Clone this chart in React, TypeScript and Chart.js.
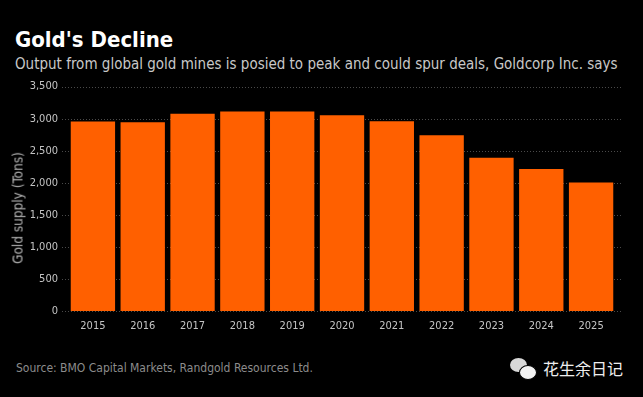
import React, { useEffect, useRef } from "react";
import { Chart, registerables } from "chart.js";

Chart.register(...registerables);

const years = ["2015", "2016", "2017", "2018", "2019", "2020", "2021", "2022", "2023", "2024", "2025"];
const goldSupply = [2955, 2945, 3075, 3110, 3110, 3055, 2960, 2740, 2390, 2215, 2005];
const yTicks = [0, 500, 1000, 1500, 2000, 2500, 3000, 3500];

const FONT = "'DejaVu Sans Condensed', 'Liberation Sans Narrow', 'DejaVu Sans', sans-serif";

const dottedGrid = {
  id: "dottedGrid",
  beforeDatasetsDraw(chart: any) {
    const { ctx, chartArea, scales } = chart;
    const y = scales.y;
    ctx.save();
    ctx.strokeStyle = "#4a4a4a";
    ctx.lineWidth = 1;
    ctx.setLineDash([1, 2]);
    yTicks.forEach((v) => {
      const py = Math.round(y.getPixelForValue(v)) + 0.5;
      ctx.beginPath();
      ctx.moveTo(chartArea.left - 6, py);
      ctx.lineTo(chartArea.right + 6, py);
      ctx.stroke();
    });
    ctx.restore();
  },
};

export default function App() {
  const ref = useRef<HTMLCanvasElement | null>(null);

  useEffect(() => {
    if (!ref.current) return;
    const chart = new Chart(ref.current, {
      type: "bar",
      data: {
        labels: years,
        datasets: [
          {
            data: goldSupply,
            backgroundColor: "#ff6000",
            borderWidth: 0,
            barPercentage: 0.89,
            categoryPercentage: 1,
          },
        ],
      },
      options: {
        animation: false,
        responsive: false,
        maintainAspectRatio: false,
        layout: { padding: { top: 8, right: 27, left: 0, bottom: 0 } },
        plugins: { legend: { display: false }, tooltip: { enabled: false } },
        scales: {
          x: {
            grid: { display: false, drawTicks: false },
            border: { display: false },
            ticks: {
              color: "#c4c4c4",
              padding: 9,
              font: { family: FONT, size: 11 },
              maxRotation: 0,
              autoSkip: false,
            },
            afterFit(scale: any) {
              scale.height = 29;
            },
          },
          y: {
            min: 0,
            max: 3500,
            grid: { display: false, drawTicks: false },
            border: { display: false },
            ticks: {
              stepSize: 500,
              color: "#c4c4c4",
              padding: 10,
              font: { family: FONT, size: 11 },
              callback: (v: any) => Number(v).toLocaleString("en-US"),
            },
            afterFit(scale: any) {
              scale.width = 68;
            },
          },
        },
      },
      plugins: [dottedGrid],
    });
    return () => chart.destroy();
  }, []);

  return (
    <div
      style={{
        position: "absolute",
        left: 0,
        top: 0,
        width: 643,
        height: 397,
        background: "#000",
        overflow: "hidden",
        fontFamily: FONT,
      }}
    >
      <div
        style={{
          position: "absolute",
          left: 15,
          top: 27,
          color: "#ffffff",
          fontWeight: "bold",
          fontSize: 22,
          lineHeight: "26px",
          whiteSpace: "nowrap",
        }}
      >
        Gold's Decline
      </div>
      <div
        style={{
          position: "absolute",
          left: 15,
          top: 55,
          color: "#c8c8c8",
          fontSize: 15,
          lineHeight: "18px",
          whiteSpace: "nowrap",
        }}
      >
        Output from global gold mines is posied to peak and could spur deals, Goldcorp Inc. says
      </div>
      <canvas
        ref={ref}
        width={643}
        height={270}
        style={{ position: "absolute", left: 0, top: 70, width: 643, height: 270 }}
      />
      <div
        style={{
          position: "absolute",
          left: 18,
          top: 208,
          transform: "translate(-50%, -50%) rotate(-90deg)",
          color: "#b4b4b4",
          fontSize: 13.5,
          lineHeight: "15px",
          whiteSpace: "nowrap",
        }}
      >
        Gold supply (Tons)
      </div>
      <div
        style={{
          position: "absolute",
          left: 16,
          top: 360,
          color: "#8c8c8c",
          fontSize: 12,
          lineHeight: "16px",
          whiteSpace: "nowrap",
        }}
      >
        Source: BMO Capital Markets, Randgold Resources Ltd.
      </div>
      <div style={{ position: "absolute", left: 510, top: 356, width: 28, height: 26 }}>
        <div
          style={{
            position: "absolute",
            left: 0,
            top: 2,
            width: 17,
            height: 14,
            borderRadius: "50%",
            background: "#d8d8d8",
          }}
        />
        <div
          style={{
            position: "absolute",
            left: 9,
            top: 9,
            width: 16,
            height: 13,
            borderRadius: "50%",
            background: "#f2f2f2",
            border: "1px solid #000",
          }}
        />
      </div>
      <div
        style={{
          position: "absolute",
          left: 543,
          top: 358,
          color: "#eeeeee",
          fontSize: 16,
          lineHeight: "20px",
          fontFamily: "'Noto Sans CJK SC', sans-serif",
          whiteSpace: "nowrap",
        }}
      >
        花生余日记
      </div>
    </div>
  );
}
